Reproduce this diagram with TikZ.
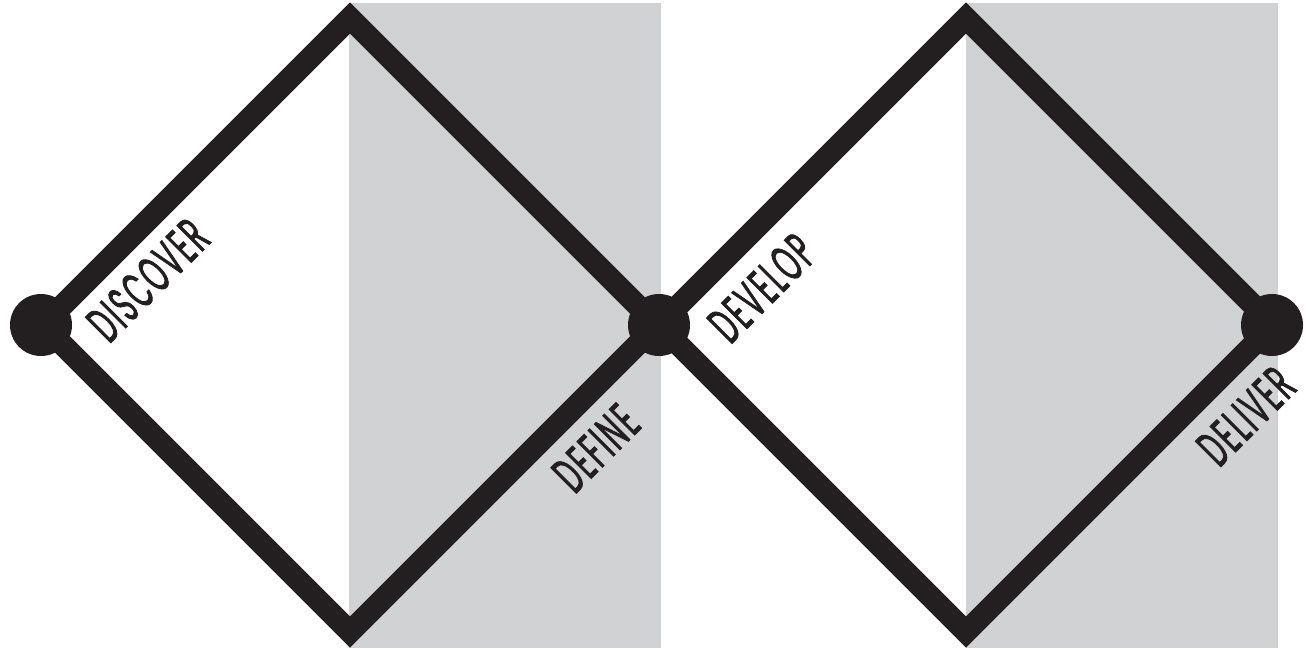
\documentclass[tikz,border=0pt]{standalone}
\usepackage{fontspec}
\newfontfamily\condfont[FakeStretch=0.5,FakeBold=1.6,LetterSpace=5]{Poppins}
\definecolor{ink}{HTML}{231F20}
\definecolor{panel}{HTML}{D1D2D4}
\begin{document}
\begin{tikzpicture}[x=1pt,y=-1pt,
  diamondline/.style={draw=ink,line width=22pt,miter limit=10,line join=miter},
  dot/.style={circle,fill=ink,inner sep=0pt,minimum size=62pt},
  phase/.style={text=ink,font=\condfont\fontsize{52}{53}\selectfont,rotate=45,inner sep=0pt},
  shade/.style={fill=panel,draw=none}]
\useasboundingbox (0,0) rectangle (1306,650);
\fill[shade] (349,3) rectangle (661,648);
\fill[shade] (966,3) rectangle (1278,648);
% diamond 1
\coordinate (aL) at (43,325);
\coordinate (aT) at (350,18);
\coordinate (aR) at (657,325);
\coordinate (aB) at (350,632);
% diamond 2
\coordinate (bL) at (659,325);
\coordinate (bT) at (966,18);
\coordinate (bR) at (1273,325);
\coordinate (bB) at (966,632);
\draw[diamondline] (aL) -- (aT) -- (aR) -- (aB) -- cycle;
\draw[diamondline] (bL) -- (bT) -- (bR) -- (bB) -- cycle;
\node[dot] (d1) at (41,325) {};
\node[dot] (d2) at (659,325) {};
\node[dot] (d3) at (1272,325) {};
\node[phase] (discover) at (148,280) {DISCOVER};
\node[phase] (define) at (596,448) {DEFINE};
\node[phase] (develop) at (762,288) {DEVELOP};
\node[phase] (deliver) at (1246,416) {DELIVER};
\end{tikzpicture}
\end{document}
